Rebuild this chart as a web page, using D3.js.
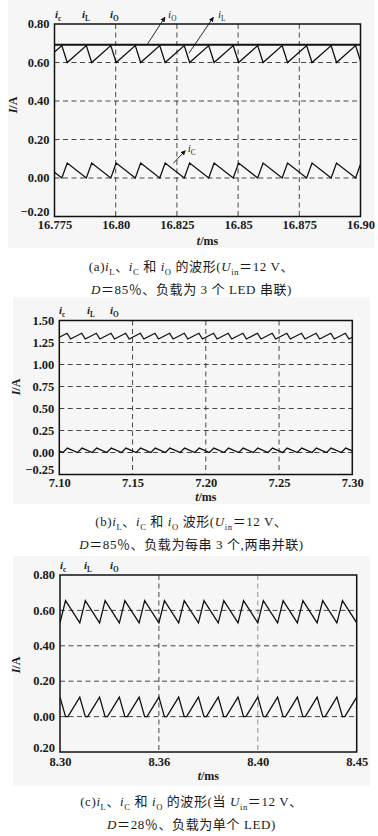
<!DOCTYPE html>
<html lang="zh">
<head>
<meta charset="UTF-8">
<title>iL, iC, iO waveforms</title>
<script src="https://cdnjs.cloudflare.com/ajax/libs/d3/7.8.5/d3.min.js"></script>
<style>
  body { margin: 0; background: #fff; }
  svg { display: block; }
  text { font-family: "Liberation Serif", "Noto Sans CJK SC", serif; fill: #1a1a1a; }
</style>
</head>
<body>
<div id="chart"></div>
<script>
  // ---- (a) 3 LEDs in series, D = 85% ----
  const ticksXA = [16.775, 16.80, 16.825, 16.85, 16.875, 16.90];
  const tickLabelsXA = ["16.775", "16.80", "16.825", "16.85", "16.875", "16.90"];
  const ticksYA = [-0.2, 0, 0.2, 0.4, 0.6, 0.8];
  const tickLabelsYA = ["\u22120.20", "0.00", "0.20", "0.40", "0.60", "0.80"];
  const iO_A = [[16.775, 0.692], [16.90, 0.692]];
  const iL_A = [
    [16.775, 0.654],
    [16.778, 0.688], [16.7802, 0.600], [16.788, 0.688], [16.7902, 0.600],
    [16.798, 0.688], [16.8002, 0.600], [16.808, 0.688], [16.8102, 0.600],
    [16.818, 0.688], [16.8202, 0.600], [16.828, 0.688], [16.8302, 0.600],
    [16.838, 0.688], [16.8402, 0.600], [16.848, 0.688], [16.8502, 0.600],
    [16.858, 0.688], [16.8602, 0.600], [16.868, 0.688], [16.8702, 0.600],
    [16.878, 0.688], [16.8802, 0.600], [16.888, 0.688], [16.8902, 0.600],
    [16.898, 0.688], [16.900, 0.608]
  ];
  const iC_A = [
    [16.775, 0.030],
    [16.778, 0.000], [16.7802, 0.078], [16.788, 0.000], [16.7902, 0.078],
    [16.798, 0.000], [16.8002, 0.078], [16.808, 0.000], [16.8102, 0.078],
    [16.818, 0.000], [16.8202, 0.078], [16.828, 0.000], [16.8302, 0.078],
    [16.838, 0.000], [16.8402, 0.078], [16.848, 0.000], [16.8502, 0.078],
    [16.858, 0.000], [16.8602, 0.078], [16.868, 0.000], [16.8702, 0.078],
    [16.878, 0.000], [16.8802, 0.078], [16.888, 0.000], [16.8902, 0.078],
    [16.898, 0.000], [16.900, 0.071]
  ];
  // arrow callouts: [from t, from v, to t, to v, label t, label v, letter]
  const calloutsA = [
    [16.8128, 0.692, 16.8201, 0.835, 16.8214, 0.831, "O"],
    [16.8299, 0.648, 16.8399, 0.835, 16.8418, 0.831, "L"],
    [16.8235, 0.076, 16.8284, 0.142, 16.8294, 0.135, "C"]
  ];

  // ---- (b) 2 strings of 3 LEDs in parallel, D = 85% ----
  const ticksXB = [7.10, 7.15, 7.20, 7.25, 7.30];
  const tickLabelsXB = ["7.10", "7.15", "7.20", "7.25", "7.30"];
  const ticksYB = [-0.25, 0, 0.25, 0.5, 0.75, 1.0, 1.25, 1.5];
  const tickLabelsYB = ["\u22120.25", "0.00", "0.25", "0.50", "0.75", "1.00", "1.25", "1.50"];
  const iL_B = [
    [7.100, 1.31],
    [7.1053, 1.355], [7.1077, 1.29], [7.1153, 1.355], [7.1177, 1.29],
    [7.1253, 1.355], [7.1277, 1.29], [7.1353, 1.355], [7.1377, 1.29],
    [7.1453, 1.355], [7.1477, 1.29], [7.1553, 1.355], [7.1577, 1.29],
    [7.1653, 1.355], [7.1677, 1.29], [7.1753, 1.355], [7.1777, 1.29],
    [7.1853, 1.355], [7.1877, 1.29], [7.1953, 1.355], [7.1977, 1.29],
    [7.2053, 1.355], [7.2077, 1.29], [7.2153, 1.355], [7.2177, 1.29],
    [7.2253, 1.355], [7.2277, 1.29], [7.2353, 1.355], [7.2377, 1.29],
    [7.2453, 1.355], [7.2477, 1.29], [7.2553, 1.355], [7.2577, 1.29],
    [7.2653, 1.355], [7.2677, 1.29], [7.2753, 1.355], [7.2777, 1.29],
    [7.2853, 1.355], [7.2877, 1.29], [7.2953, 1.355], [7.2977, 1.29],
    [7.300, 1.31]
  ];
  const iC_B = [
    [7.100, 0.020],
    [7.1025, 0], [7.1055, 0.05], [7.1125, 0], [7.1155, 0.05],
    [7.1225, 0], [7.1255, 0.05], [7.1325, 0], [7.1355, 0.05],
    [7.1425, 0], [7.1455, 0.05], [7.1525, 0], [7.1555, 0.05],
    [7.1625, 0], [7.1655, 0.05], [7.1725, 0], [7.1755, 0.05],
    [7.1825, 0], [7.1855, 0.05], [7.1925, 0], [7.1955, 0.05],
    [7.2025, 0], [7.2055, 0.05], [7.2125, 0], [7.2155, 0.05],
    [7.2225, 0], [7.2255, 0.05], [7.2325, 0], [7.2355, 0.05],
    [7.2425, 0], [7.2455, 0.05], [7.2525, 0], [7.2555, 0.05],
    [7.2625, 0], [7.2655, 0.05], [7.2725, 0], [7.2755, 0.05],
    [7.2825, 0], [7.2855, 0.05], [7.2925, 0], [7.2955, 0.05],
    [7.300, 0.018]
  ];

  // ---- (c) single LED, D = 28% ----
  const ticksXC = [8.30, 8.35, 8.40, 8.45];
  const tickLabelsXC = ["8.30", "8.36", "8.40", "8.45"];
  const ticksYC = [-0.2, 0, 0.2, 0.4, 0.6, 0.8];
  const tickLabelsYC = ["0.20", "0.00", "0.20", "0.40", "0.60", "0.80"];
  const iL_C = [
    [8.300, 0.53], [8.3028, 0.655], [8.310, 0.53], [8.3128, 0.655],
    [8.320, 0.53], [8.3228, 0.655], [8.330, 0.53], [8.3328, 0.655],
    [8.340, 0.53], [8.3428, 0.655], [8.350, 0.53], [8.3528, 0.655],
    [8.360, 0.53], [8.3628, 0.655], [8.370, 0.53], [8.3728, 0.655],
    [8.380, 0.53], [8.3828, 0.655], [8.390, 0.53], [8.3928, 0.655],
    [8.400, 0.53], [8.4028, 0.655], [8.410, 0.53], [8.4128, 0.655],
    [8.420, 0.53], [8.4228, 0.655], [8.430, 0.53], [8.4328, 0.655],
    [8.440, 0.53], [8.4428, 0.655], [8.450, 0.53]
  ];
  const iC_C = [
    [8.300, 0.11], [8.3028, 0], [8.304, 0], [8.310, 0.11], [8.3128, 0], [8.314, 0],
    [8.320, 0.11], [8.3228, 0], [8.324, 0], [8.330, 0.11], [8.3328, 0], [8.334, 0],
    [8.340, 0.11], [8.3428, 0], [8.344, 0], [8.350, 0.11], [8.3528, 0], [8.354, 0],
    [8.360, 0.11], [8.3628, 0], [8.364, 0], [8.370, 0.11], [8.3728, 0], [8.374, 0],
    [8.380, 0.11], [8.3828, 0], [8.384, 0], [8.390, 0.11], [8.3928, 0], [8.394, 0],
    [8.400, 0.11], [8.4028, 0], [8.404, 0], [8.410, 0.11], [8.4128, 0], [8.414, 0],
    [8.420, 0.11], [8.4228, 0], [8.424, 0], [8.430, 0.11], [8.4328, 0], [8.434, 0],
    [8.440, 0.11], [8.4428, 0], [8.444, 0], [8.450, 0.11]
  ];

  // captions: [text, kind]  kind: I = italic, s = subscript
  const captionA = [
    [["(a)"], ["i", "I"], ["L", "s"], ["、"], ["i", "I"], ["C", "s"], [" 和 "], ["i", "I"], ["O", "s"], [" 的波形("], ["U", "I"], ["in", "s"], ["＝12 V、"]],
    [["D", "I"], ["＝85％、负载为 3 个 LED 串联)"]]
  ];
  const captionB = [
    [["(b)"], ["i", "I"], ["L", "s"], ["、"], ["i", "I"], ["C", "s"], [" 和 "], ["i", "I"], ["O", "s"], [" 波形("], ["U", "I"], ["in", "s"], ["＝12 V、"]],
    [["D", "I"], ["＝85％、负载为每串 3 个,两串并联)"]]
  ];
  const captionC = [
    [["(c)"], ["i", "I"], ["L", "s"], ["、"], ["i", "I"], ["C", "s"], [" 和 "], ["i", "I"], ["O", "s"], [" 的波形(当 "], ["U", "I"], ["in", "s"], ["＝12 V、"]],
    [["D", "I"], ["＝28％、负载为单个 LED)"]]
  ];
  const legendLetters = ["c", "L", "O"];

  // ---- layout ----
  const width = 378, height = 836;
  const panels = [
    { id: "a", bg: [8, 0, 374, 248], left: 54.5, right: 360.5, top: 24, bottom: 216.5,
      xTicks: ticksXA, xLabels: tickLabelsXA, yTicks: ticksYA, yLabels: tickLabelsYA,
      series: [iL_A, iC_A], thick: [iO_A], callouts: calloutsA, xPad: 4,
      legendX: [55, 82, 110], legendY: 18, yTitle: [17, 105], xTitleY: 245, caption: captionA, capY: [271, 294] },
    { id: "b", bg: [13, 297, 370, 504], left: 59.3, right: 352.3, top: 320.5, bottom: 474.5,
      xTicks: ticksXB, xLabels: tickLabelsXB, yTicks: ticksYB, yLabels: tickLabelsYB,
      series: [iL_B, iC_B], thick: [], callouts: [], xPad: 4,
      legendX: [59, 87, 110], legendY: 314, yTitle: [20, 387], xTitleY: 501, caption: captionB, capY: [526, 549] },
    { id: "c", bg: [13, 556, 370, 786], left: 60, right: 356.7, top: 575, bottom: 752,
      xTicks: ticksXC, xLabels: tickLabelsXC, yTicks: ticksYC, yLabels: tickLabelsYC,
      series: [iL_C, iC_C], thick: [], callouts: [], xPad: 5,
      legendX: [60, 84, 110], legendY: 569, yTitle: [20, 665], xTitleY: 780, caption: captionC, capY: [806, 829] }
  ];

  const svg = d3.select("#chart").append("svg")
      .attr("width", width).attr("height", height)
      .attr("viewBox", [0, 0, width, height]);

  svg.append("defs").append("marker")
      .attr("id", "arrow")
      .attr("viewBox", "0 0 8 8")
      .attr("refX", 7).attr("refY", 4)
      .attr("markerWidth", 5).attr("markerHeight", 5)
      .attr("markerUnits", "userSpaceOnUse")
      .attr("orient", "auto")
      .append("path").attr("d", "M0,0L8,4L0,8z").attr("fill", "#111");

  // text made of plain / italic / subscript pieces
  function rich (g, x, y, segs, size, anchor, weight) {
    const t = g.append("text")
        .attr("x", x).attr("y", y)
        .attr("text-anchor", anchor || "start")
        .style("font-size", size + "px")
        .style("font-weight", weight || "normal");
    let shift = 0;
    segs.forEach(([s, k]) => {
      const sp = t.append("tspan").text(s);
      const target = k === "s" ? size * 0.3 : 0;
      if (target !== shift) { sp.attr("dy", target - shift); shift = target; }
      if (k === "s") sp.style("font-size", (size * 0.66) + "px");
      if (k === "I") sp.style("font-style", "italic");
    });
    return t;
  }

  panels.forEach(p => {
    const g = svg.append("g");
    g.append("rect")
        .attr("x", p.bg[0]).attr("y", p.bg[1])
        .attr("width", p.bg[2] - p.bg[0]).attr("height", p.bg[3] - p.bg[1])
        .attr("fill", "#f6f6f6");

    const x = d3.scaleLinear([p.xTicks[0], p.xTicks[p.xTicks.length - 1]], [p.left, p.right]);
    const y = d3.scaleLinear([p.yTicks[0], p.yTicks[p.yTicks.length - 1]], [p.bottom, p.top]);

    // dashed grid on inner ticks
    g.append("g").selectAll("line")
        .data(p.yTicks.slice(1, -1))
        .join("line")
        .attr("x1", p.left).attr("x2", p.right)
        .attr("y1", d => y(d)).attr("y2", d => y(d))
        .attr("stroke", "#333").attr("stroke-width", 0.9)
        .attr("stroke-dasharray", "5,3.5");
    g.append("g").selectAll("line")
        .data(p.xTicks.slice(1, -1))
        .join("line")
        .attr("x1", d => x(d)).attr("x2", d => x(d))
        .attr("y1", p.top).attr("y2", p.bottom)
        .attr("stroke", (d, i) => p.id === "c" && i === 1 ? "#888" : "#333")
        .attr("stroke-width", 0.9)
        .attr("stroke-dasharray", "5,3.5");

    // waveforms
    const clipId = "clip-" + p.id;
    g.append("clipPath").attr("id", clipId)
        .append("rect")
        .attr("x", p.left).attr("y", p.top - 2)
        .attr("width", p.right - p.left).attr("height", p.bottom - p.top + 4);
    const line = d3.line().x(d => x(d[0])).y(d => y(d[1]));
    const wave = g.append("g").attr("clip-path", `url(#${clipId})`);
    wave.selectAll("path.w")
        .data(p.series)
        .join("path")
        .attr("class", "w")
        .attr("d", line)
        .attr("fill", "none")
        .attr("stroke", "#111")
        .attr("stroke-width", 1.3)
        .attr("stroke-linejoin", "miter");
    wave.selectAll("path.t")
        .data(p.thick)
        .join("path")
        .attr("class", "t")
        .attr("d", line)
        .attr("fill", "none")
        .attr("stroke", "#111")
        .attr("stroke-width", 2);

    // frame
    g.append("rect")
        .attr("x", p.left).attr("y", p.top)
        .attr("width", p.right - p.left).attr("height", p.bottom - p.top)
        .attr("fill", "none").attr("stroke", "#111").attr("stroke-width", 1.5);

    // axes (labels only)
    const axL = g.append("g").attr("transform", `translate(${p.left},0)`)
        .call(d3.axisLeft(y).tickValues(p.yTicks).tickSize(0).tickPadding(5)
            .tickFormat((d, i) => p.yLabels[i]));
    const axB = g.append("g").attr("transform", `translate(0,${p.bottom})`)
        .call(d3.axisBottom(x).tickValues(p.xTicks).tickSize(0).tickPadding(p.xPad)
            .tickFormat((d, i) => p.xLabels[i]));
    [axL, axB].forEach(a => {
      a.select(".domain").remove();
      a.selectAll("text")
          .attr("fill", "#1a1a1a")
          .style("font-family", '"Liberation Serif", serif')
          .style("font-size", "12.5px")
          .style("font-weight", "bold");
    });
    // the lowest value label sits a little above the frame corner, as printed
    axL.selectAll("text").attr("dy", (d, i) => i === 0 ? "-0.05em" : "0.3em");

    // axis titles
    rich(g, (p.left + p.right) / 2, p.xTitleY, [["t", "I"], ["/ms"]], 12, "middle", "bold");
    rich(g, 0, 0, [["I", "I"], ["/A"]], 12, "middle", "bold")
        .attr("transform", `translate(${p.yTitle[0]},${p.yTitle[1]}) rotate(-90)`);

    // i_c  i_L  i_O above the frame
    legendLetters.forEach((l, i) => {
      rich(g, p.legendX[i], p.legendY, [["i", "I"], [l, "s"]], 11, "start", "bold");
    });

    // callouts
    p.callouts.forEach(c => {
      g.append("line")
          .attr("x1", x(c[0])).attr("y1", y(c[1]))
          .attr("x2", x(c[2])).attr("y2", y(c[3]))
          .attr("stroke", "#111").attr("stroke-width", 0.9)
          .attr("marker-end", "url(#arrow)");
      rich(g, x(c[4]), y(c[5]), [["i", "I"], [c[6], "s"]], 11, "start", "normal");
    });

    // caption
    p.caption.forEach((segs, i) => {
      rich(svg, 191.5, p.capY[i], segs, 13, "middle", "normal")
          .style("letter-spacing", "0.6px");
    });
  });
</script>
</body>
</html>
